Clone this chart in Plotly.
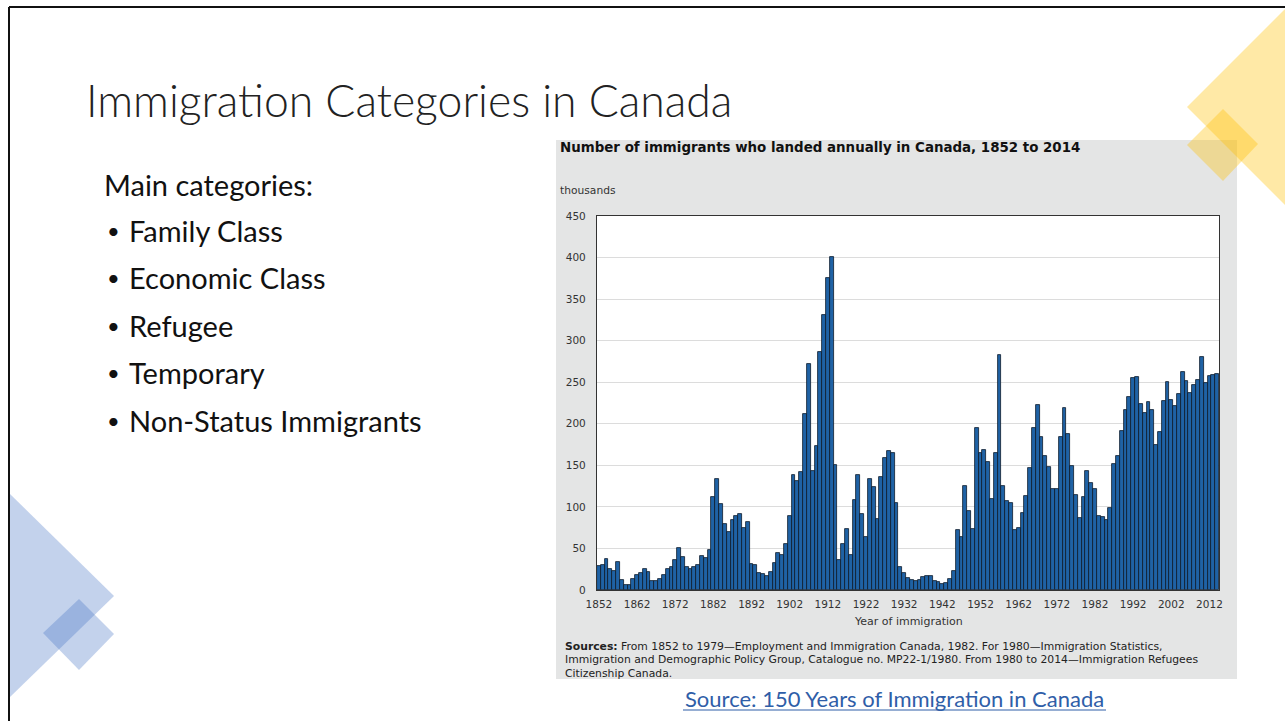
import plotly.graph_objects as go

W, H = 1285, 721

years = list(range(1852, 2015))
immigrants = [
    29.3, 29.5, 37.3, 25.3, 22.4, 33.9, 12.3, 6.3, 6.3, 13.6,        # 1852-1861
    18.3, 21.0, 24.8, 21.4, 11.4, 10.7, 12.8, 18.6, 24.7, 27.8,      # 1862-1871
    36.6, 50.1, 39.4, 27.4, 25.6, 27.1, 29.8, 40.5, 38.5, 47.9,      # 1872-1881
    112.5, 133.6, 103.8, 79.2, 69.2, 84.5, 88.8, 91.6, 75.1, 82.2,   # 1882-1891
    31.0, 29.6, 20.8, 18.8, 16.8, 21.7, 31.9, 44.5, 41.7, 55.7,      # 1892-1901
    89.1, 138.7, 131.3, 141.5, 211.7, 272.4, 143.3, 173.7, 286.8, 331.3,  # 1902-1911
    375.8, 400.9, 150.5, 36.7, 55.9, 72.9, 41.8, 107.7, 138.8, 91.7,  # 1912-1921
    64.2, 133.7, 124.2, 84.9, 136.0, 158.9, 166.8, 165.0, 104.8, 27.5,  # 1922-1931
    20.6, 14.4, 12.5, 11.3, 11.6, 15.1, 17.2, 17.0, 11.3, 9.3,       # 1932-1941
    7.6, 8.5, 12.8, 22.7, 71.7, 64.1, 125.4, 95.2, 73.9, 194.4,      # 1942-1951
    164.5, 168.9, 154.2, 110.0, 164.9, 282.2, 124.9, 106.9, 104.1, 71.7,  # 1952-1961
    74.6, 93.2, 112.6, 146.8, 194.7, 223.0, 184.0, 161.5, 147.7, 121.9,  # 1962-1971
    122.0, 184.2, 218.5, 187.9, 149.4, 114.9, 86.3, 112.1, 143.1, 128.6,  # 1972-1981
    121.1, 89.2, 88.2, 84.3, 99.2, 152.1, 161.6, 191.6, 216.4, 232.8,  # 1982-1991
    254.8, 256.6, 224.4, 212.9, 226.1, 216.0, 174.2, 190.0, 227.5, 250.6,  # 1992-2001
    229.0, 221.4, 235.8, 262.2, 251.6, 236.8, 247.2, 252.2, 280.7, 248.7,  # 2002-2011
    257.9, 259.0, 260.3,                                              # 2012-2014
]
x_ticks = list(range(1852, 2013, 10))
y_ticks = list(range(0, 451, 50))

slide_title = "Immigration Categories in Canada"
intro = "Main categories:"
bullets = ["Family Class", "Economic Class", "Refugee", "Temporary", "Non-Status Immigrants"]
chart_title = "Number of immigrants who landed annually in Canada, 1852 to 2014"
source_lines = [
    "<b>Sources:</b> From 1852 to 1979\u2014Employment and Immigration Canada, 1982. For 1980\u2014Immigration Statistics,",
    "Immigration and Demographic Policy Group, Catalogue no. MP22-1/1980. From 1980 to 2014\u2014Immigration Refugees",
    "Citizenship Canada.",
]
link_text = "Source: 150 Years of Immigration in Canada"


def px(x, y):
    return x / W, 1 - y / H


# plot area in pixels
PL, PR, PT, PB = 597, 1219, 216, 590

fig = go.Figure()
fig.add_trace(go.Bar(
    x=years, y=immigrants,
    marker=dict(color="#1f62a5", line=dict(color="#0e1a2b", width=0.8)),
    hoverinfo="x+y",
))

shapes = []
# chart image background
x0, y0 = px(556, 140); x1, y1 = px(1237, 679)
shapes.append(dict(type="rect", xref="paper", yref="paper", x0=x0, y0=y1, x1=x1, y1=y0,
                   fillcolor="#e4e5e5", line=dict(width=0), layer="below"))
x0, y0 = px(PL, PT); x1, y1 = px(PR, PB)
shapes.append(dict(type="rect", xref="paper", yref="paper", x0=x0, y0=y1, x1=x1, y1=y0,
                   fillcolor="#ffffff", line=dict(width=0), layer="below"))


def poly(points, color, opacity):
    pts = [px(a, b) for a, b in points]
    path = "M " + " L ".join(f"{a:.5f},{b:.5f}" for a, b in pts) + " Z"
    return dict(type="path", xref="paper", yref="paper", path=path,
                fillcolor=color, opacity=opacity, line=dict(width=0), layer="above")


# decorative shapes
shapes.append(poly([(9, 493), (114, 596), (9, 698)], "#4472c4", 0.32))
shapes.append(poly([(43, 633), (79, 599), (114, 634), (79, 670)], "#4472c4", 0.32))
shapes.append(poly([(1187, 107), (1287, 7), (1287, 207)], "#ffc000", 0.35))
shapes.append(poly([(1187, 145), (1223, 109), (1258, 144), (1223, 181)], "#ffc000", 0.35))

# slide border (top and left)
a, b = px(9, 7); c, d = px(1285, 7)
shapes.append(dict(type="line", xref="paper", yref="paper", x0=a, y0=b, x1=c, y1=d,
                   line=dict(color="#111111", width=2)))
a, b = px(9, 7); c, d = px(9, 721)
shapes.append(dict(type="line", xref="paper", yref="paper", x0=a, y0=b, x1=c, y1=d,
                   line=dict(color="#111111", width=2)))
# link underline
a, b = px(683, 710); c, d = px(1106, 710)
shapes.append(dict(type="line", xref="paper", yref="paper", x0=a, y0=b, x1=c, y1=d,
                   line=dict(color="#2f5ea8", width=1.2)))

annotations = []


def txt(x, y, text, size, color="#000000", family="Lato", xanchor="left", weight=None):
    xx, yy = px(x, y)
    f = dict(size=size, color=color, family=family)
    if weight:
        f["weight"] = weight
    annotations.append(dict(x=xx, y=yy, xref="paper", yref="paper", text=text, showarrow=False,
                            xanchor=xanchor, yanchor="middle", font=f))


txt(84, 100, slide_title, 44.5, "#222222", weight=300)
txt(102, 184, intro, 29, "#111111")
for i, b_ in enumerate(bullets):
    yy = 230 + i * 47.5
    txt(105, yy, "\u2022", 22, "#111111")
    txt(127, yy, b_, 29, "#111111")

txt(558, 147, f"<b>{chart_title}</b>", 13.4, "#111111", family="DejaVu Sans")
txt(558, 190, "thousands", 10.7, "#333333", family="DejaVu Sans")
txt(908, 621, "Year of immigration", 11, "#333333", family="DejaVu Sans", xanchor="center")
for i, line in enumerate(source_lines):
    txt(563, 646 + i * 13.5, line, 10.8, "#222222", family="DejaVu Sans")
txt(894, 698, link_text, 22, "#2f5ea8", xanchor="center")

xd0, _ = px(PL, 0); xd1, _ = px(PR, 0)
_, yd1 = px(0, PT); _, yd0 = px(0, PB)

fig.update_layout(
    width=W, height=H,
    margin=dict(l=0, r=0, t=0, b=0, pad=0, autoexpand=False),
    paper_bgcolor="#ffffff",
    plot_bgcolor="rgba(0,0,0,0)",
    showlegend=False,
    bargap=0,
    shapes=shapes,
    annotations=annotations,
    xaxis=dict(domain=[xd0, xd1], range=[1851.5, 2014.5], tickvals=x_ticks,
               ticktext=[str(t) for t in x_ticks], showgrid=False, zeroline=False,
               showline=True, linecolor="#333333", linewidth=1.2, mirror=True, ticks="",
               ticklabelstandoff=4, automargin=False,
               tickfont=dict(family="DejaVu Sans", size=10.5, color="#333333")),
    yaxis=dict(domain=[yd0, yd1], range=[0, 450], tickvals=y_ticks, showgrid=True,
               gridcolor="#dcdcdc", gridwidth=1, zeroline=False, showline=True,
               linecolor="#333333", linewidth=1.2, mirror=True, ticks="",
               ticklabelstandoff=8, automargin=False,
               tickfont=dict(family="DejaVu Sans", size=10.5, color="#333333")),
)

fig.write_html("out.html")
